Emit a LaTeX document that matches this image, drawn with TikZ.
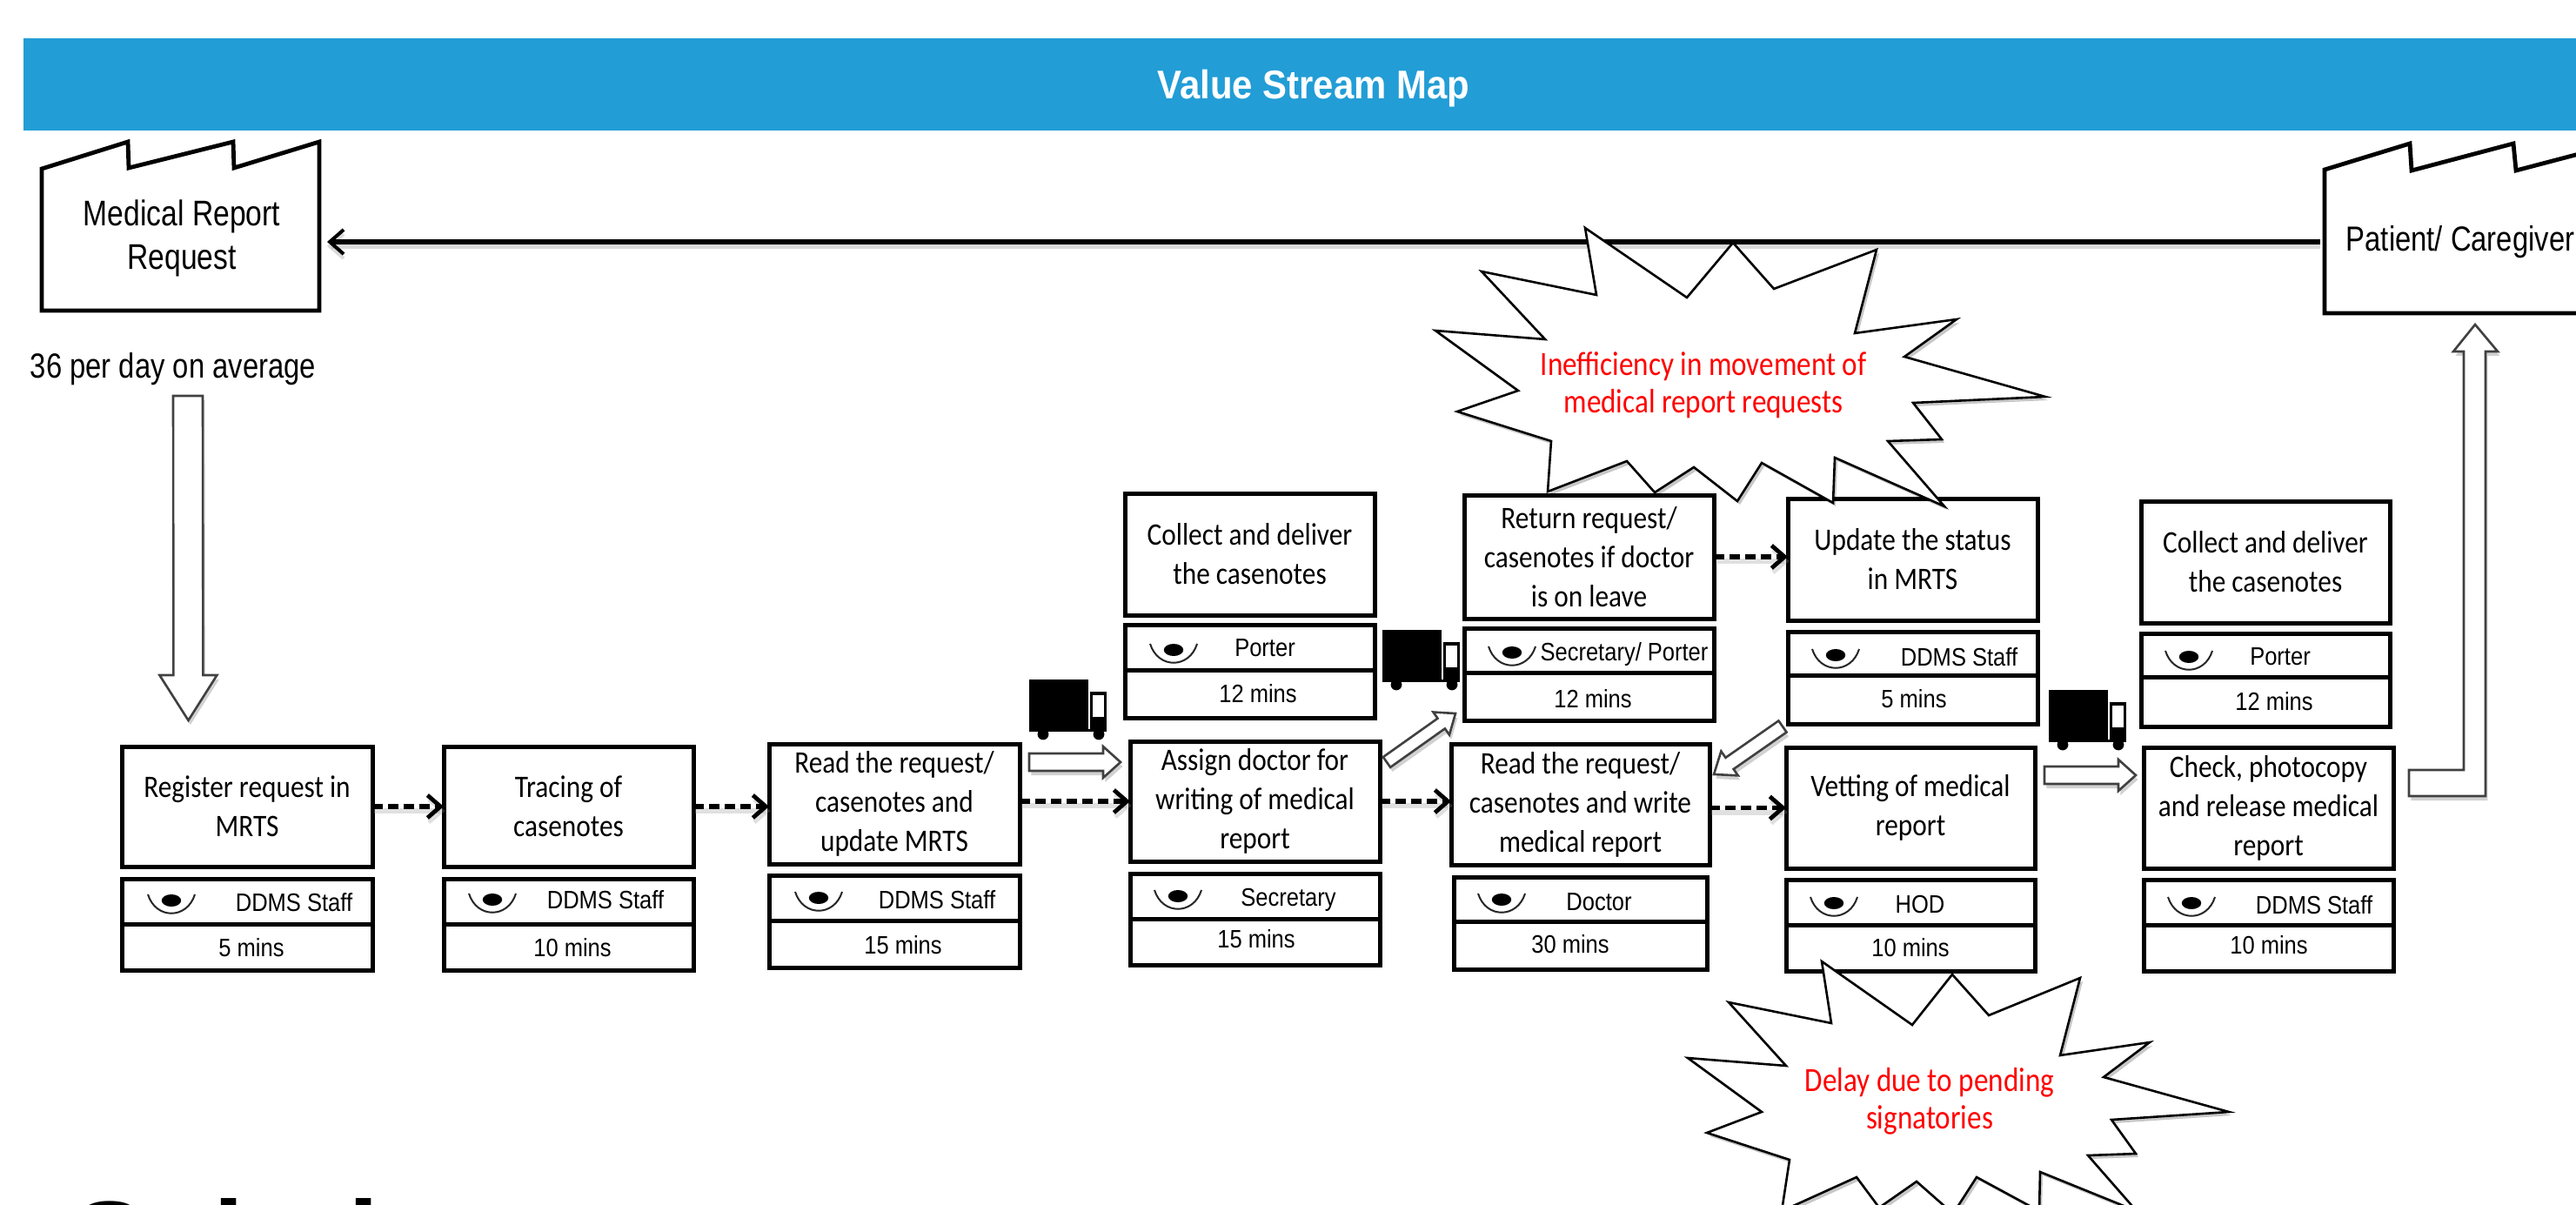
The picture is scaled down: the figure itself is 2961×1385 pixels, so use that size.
\documentclass[tikz,border=0pt]{standalone}
\usepackage{fontspec}
\usetikzlibrary{arrows.meta,calc}
\setmainfont{Liberation Sans}
\newfontfamily\boxf[FakeStretch=.87]{Carlito}
\newfontfamily\redf[FakeStretch=.85]{Carlito}
\newfontfamily\labelf[FakeStretch=.82]{Liberation Sans}
\newfontfamily\rolef[FakeStretch=.88]{Liberation Sans}
\newfontfamily\titlef[FakeStretch=.91]{Liberation Sans}
\definecolor{bannerblue}{RGB}{34,157,214}
\tikzset{
  cell/.style={draw=black,line width=2.5pt,fill=white,inner sep=0pt,outer sep=0pt,align=center,
    font=\boxf\fontsize{18}{22.5}\selectfont},
  rolelbl/.style={inner sep=0pt,font=\rolef\fontsize{14.5}{17}\selectfont},
  factorylbl/.style={inner sep=0pt,align=center,font=\labelf\fontsize{20.5}{25}\selectfont},
  redlbl/.style={inner sep=0pt,align=center,text=red,font=\redf\fontsize{19.5}{21.5}\selectfont},
  factoryshape/.style={draw=black,line width=2.4pt,fill=white,line join=miter},
  anchorbox/.style={inner sep=0pt,outer sep=0pt},
  mainflow/.style={draw=black,line width=2.6pt,-{Straight Barb[length=8pt,width=14pt,line width=2pt]},
    preaction={draw=black!40,opacity=.35,line width=3pt,transform canvas={yshift=-2.5pt}}},
  pushflow/.style={draw=black,line width=2.8pt,dash pattern=on 6pt off 3pt,
    -{Straight Barb[length=7.5pt,width=13pt,line width=2.4pt]},
    preaction={draw=black!40,opacity=.3,line width=3pt,transform canvas={yshift=-2.5pt,xshift=.8pt}}},
  hollowshape/.style={draw=black!75,line width=1.3pt,fill=white,line join=miter,
    preaction={fill=black,opacity=.18,transform canvas={yshift=-2.5pt,xshift=1.2pt}}},
  burst/.style={draw=black,line width=1.3pt,fill=white,line join=miter,
    preaction={fill=black,opacity=.22,transform canvas={yshift=-2pt,xshift=1.5pt}}},
}
\newcommand{\stepbox}[6]{%
  \pgfmathsetmacro\vsmw{(#3-#2)*0.5}\pgfmathsetmacro\vsmh{(#5-#4)*0.5}%
  \node[cell,minimum width=\vsmw pt,minimum height=\vsmh pt] (#1) at ({(#2+#3)/2},{(#4+#5)/2}) {#6};}
\newcommand{\eyemark}[2]{%
  \begin{scope}[shift={(#1,#2)}]
    \fill[black] (0,-2) ellipse [x radius=5.6pt,y radius=3.5pt];
    \draw[black!85,line width=1pt] (-27,-9) .. controls (-18,20) and (18,20) .. (27,-9);
  \end{scope}}
\newcommand{\truckmark}[2]{%
  \begin{scope}[shift={(#1,#2)}]
    \fill[black] (0,0) rectangle (68,57);
    \fill[black] (70,14) rectangle (89,60);
    \fill[white] (73,18) rectangle (86,43);
    \fill[black] (0,57) rectangle (89,60);
    \fill[black] (16,63) circle [radius=3.2pt];
    \fill[black] (80,63) circle [radius=3.2pt];
  \end{scope}}
% #1 start, #2 tip, #3 shaft half, #4 head half, #5 head length (in points)
\newcommand{\hollowarrow}[5]{%
  \coordinate (hc) at ($(#2)!#5pt!(#1)$);
  \draw[hollowshape] ($(#1)!#3pt!90:(#2)$) -- ($(hc)!#3pt!-90:(#1)$) -- ($(hc)!#4pt!-90:(#1)$)
    -- (#2) -- ($(hc)!#4pt!90:(#1)$) -- ($(hc)!#3pt!90:(#1)$) -- ($(#1)!#3pt!-90:(#2)$) -- cycle;}
\begin{document}
\begin{tikzpicture}[x=0.5pt,y=-0.5pt]
\path[use as bounding box] (0,0) rectangle (2961,1385);
\clip (0,0) rectangle (2961,1385);
\fill[white] (0,0) rectangle (2961,1385);

% banner
\node[fill=bannerblue,inner sep=0pt,outer sep=0pt,minimum width=1481pt,minimum height=53pt] (banner) at (1508,97) {};
\node[text=white,inner sep=0pt,font=\titlef\bfseries\fontsize{23}{27}\selectfont] (title) at (1510,102) {Value Stream Map};

% factories
\draw[factoryshape] (48,357) -- (48,194) -- (147,163) -- (148,193) -- (268,163) -- (269,193) -- (367,163) -- (367,357) -- cycle;
\node[anchorbox,minimum width=159.5pt,minimum height=79pt] (facA) at (207.5,278) {};
\node[factorylbl] (facAlbl) at (209,274) {Medical Report\\Request};
\draw[factoryshape] (3010,360) -- (2672,360) -- (2672,195) -- (2770,165) -- (2772,196) -- (2889,165) -- (2892,196) -- (3010,165);
\node[anchorbox,minimum width=169pt,minimum height=82pt] (facB) at (2841,278) {};
\node[factorylbl,font=\labelf\fontsize{20}{25}\selectfont] (facBlbl) at (2828,278) {Patient/ Caregiver};
\draw[mainflow,shorten >=4.5pt,shorten <=2.5pt] (facB.west) -- (facA.east);
\node[factorylbl,font=\labelf\fontsize{20}{25}\selectfont] (rate) at (199,424) {36 per day on average};

% process boxes
\stepbox{regA}{140}{428}{858}{996}{Register request in\\MRTS}
\stepbox{regB}{140}{428}{1010}{1062}{}
\stepbox{regC}{140}{428}{1062}{1115}{}
\stepbox{traA}{510}{797}{858}{996}{Tracing of\\casenotes}
\stepbox{traB}{510}{797}{1010}{1062}{}
\stepbox{traC}{510}{797}{1062}{1115}{}
\stepbox{rdA}{884}{1172}{855}{993}{Read the request/\\casenotes and\\update MRTS}
\stepbox{rdB}{884}{1172}{1006}{1058}{}
\stepbox{rdC}{884}{1172}{1058}{1112}{}
\stepbox{colA}{1293}{1580}{567}{707}{Collect and deliver\\the casenotes}
\stepbox{colB}{1293}{1580}{718}{770}{}
\stepbox{colC}{1293}{1580}{770}{825}{}
\stepbox{asgA}{1299}{1586}{852}{990}{Assign doctor for\\writing of medical\\report}
\stepbox{asgB}{1299}{1586}{1004}{1056}{}
\stepbox{asgC}{1299}{1586}{1056}{1109}{}
\stepbox{retA}{1683}{1970}{569}{711}{Return request/\\casenotes if doctor\\is on leave}
\stepbox{retB}{1683}{1970}{722}{773}{}
\stepbox{retC}{1683}{1970}{773}{828}{}
\stepbox{wrtA}{1668}{1965}{855}{994}{Read the request/\\casenotes and write\\medical report}
\stepbox{wrtB}{1671}{1962}{1008}{1059}{}
\stepbox{wrtC}{1671}{1962}{1059}{1114}{}
\stepbox{updA}{2055}{2342}{573}{713}{Update the status\\in MRTS}
\stepbox{updB}{2055}{2342}{726}{776}{}
\stepbox{updC}{2055}{2342}{776}{832}{}
\stepbox{vetA}{2053}{2339}{859}{998}{Vetting of medical\\report}
\stepbox{vetB}{2053}{2339}{1011}{1063}{}
\stepbox{vetC}{2053}{2339}{1063}{1116}{}
\stepbox{cdlA}{2461}{2747}{576}{716}{Collect and deliver\\the casenotes}
\stepbox{cdlB}{2461}{2747}{728}{778}{}
\stepbox{cdlC}{2461}{2747}{778}{835}{}
\stepbox{chkA}{2464}{2751}{859}{998}{Check, photocopy\\and release medical\\report}
\stepbox{chkB}{2464}{2751}{1011}{1063}{}
\stepbox{chkC}{2464}{2751}{1063}{1116}{}

% operator eyes
\eyemark{197}{1037}\eyemark{566}{1036}\eyemark{941}{1034}\eyemark{1349}{749}\eyemark{1354}{1032}
\eyemark{1738}{752}\eyemark{1726}{1036}\eyemark{2110}{755}\eyemark{2108}{1040}\eyemark{2516}{757}\eyemark{2519}{1040}

% operators and times
\node[rolelbl] (regR) at (338,1037) {DDMS Staff};
\node[rolelbl] (regT) at (289,1089) {5 mins};
\node[rolelbl] (traR) at (696,1034) {DDMS Staff};
\node[rolelbl] (traT) at (658,1089) {10 mins};
\node[rolelbl] (rdR) at (1077,1034) {DDMS Staff};
\node[rolelbl] (rdT) at (1038,1086) {15 mins};
\node[rolelbl] (colR) at (1454,745) {Porter};
\node[rolelbl] (colT) at (1446,797) {12 mins};
\node[rolelbl] (asgR) at (1481,1034) {Secretary};
\node[rolelbl] (asgT) at (1444,1079) {15 mins};
\node[rolelbl] (retR) at (1867,752) {Secretary/ Porter};
\node[rolelbl] (retT) at (1831,803) {12 mins};
\node[rolelbl] (wrtR) at (1838,1037) {Doctor};
\node[rolelbl] (wrtT) at (1805,1085) {30 mins};
\node[rolelbl] (updR) at (2252,755) {DDMS Staff};
\node[rolelbl] (updT) at (2200,803) {5 mins};
\node[rolelbl] (vetR) at (2207,1040) {HOD};
\node[rolelbl] (vetT) at (2196,1089) {10 mins};
\node[rolelbl] (cdlR) at (2621,755) {Porter};
\node[rolelbl] (cdlT) at (2614,806) {12 mins};
\node[rolelbl] (chkR) at (2660,1040) {DDMS Staff};
\node[rolelbl] (chkT) at (2608,1086) {10 mins};

% trucks
\truckmark{1183}{781}\truckmark{1589}{724}\truckmark{2355}{793}

% dashed push arrows
\draw[pushflow] (regA.east) -- (traA.west);
\draw[pushflow] (traA.east) -- (traA.east -| rdA.west);
\draw[pushflow] (rdA.east |- asgA.west) -- (asgA.west);
\draw[pushflow] (asgA.east) -- (asgA.east -| wrtA.west);
\draw[pushflow] (retA.east) -- (retA.east -| updA.west);
\draw[pushflow] (wrtA.east |- vetA.west) -- (vetA.west);

% hollow arrows
\coordinate (inA) at (216,455); \coordinate (inB) at (216.5,828);
\hollowarrow{inA}{inB}{8.5}{16.5}{26}
\coordinate (moveAa) at (1183,876); \coordinate (moveAb) at (1288,876);
\hollowarrow{moveAa}{moveAb}{5}{9}{10}
\coordinate (moveBa) at (1594,876); \coordinate (moveBb) at (1673,820);
\hollowarrow{moveBa}{moveBb}{3.6}{8}{10}
\coordinate (moveCa) at (2049,835); \coordinate (moveCb) at (1970,890);
\hollowarrow{moveCa}{moveCb}{4}{8.5}{11}
\coordinate (moveDa) at (2350,891); \coordinate (moveDb) at (2455,891);
\hollowarrow{moveDa}{moveDb}{5}{9}{10}
\draw[hollowshape] (2769,885) -- (2832,885) -- (2832,404) -- (2820,404) -- (2845,373) -- (2871,404) -- (2857,404) -- (2857,915) -- (2769,915) -- cycle;

% bursts
\draw[burst] (1822,262) -- (1939,342) -- (1992,279) -- (2039,332) -- (2157,287) -- (2132,383) -- (2249,367) -- (2189,410) -- (2351,456) -- (2199,463) -- (2232,505) -- (2170,507) -- (2235,582) -- (2109,526) -- (2107,578) -- (2025,532) -- (1997,576) -- (1947,537) -- (1902,566) -- (1870,530) -- (1779,565) -- (1783,507) -- (1675,473) -- (1745,449) -- (1650,380) -- (1776,390) -- (1703,312) -- (1835,339) -- cycle;
\node[redlbl] (waste) at (1958,443) {Inefficiency in movement of\\medical report requests};
\draw[burst] (2094,1105) -- (2198,1178) -- (2244,1120) -- (2286,1167) -- (2391,1124) -- (2368,1213) -- (2471,1198) -- (2418,1238) -- (2562,1278) -- (2427,1287) -- (2455,1326) -- (2400,1328) -- (2456,1392) -- (2345,1347) -- (2344,1392) -- (2272,1353) -- (2245,1395) -- (2203,1358) -- (2160,1388) -- (2134,1353) -- (2048,1392) -- (2057,1333) -- (1962,1302) -- (2025,1278) -- (1940,1216) -- (2053,1225) -- (1987,1152) -- (2105,1176) -- cycle;
\node[redlbl] (delay) at (2218,1266) {Delay due to pending\\signatories};

% cropped heading at the bottom edge
\node[anchor=base west,inner sep=0pt,text=black,font=\bfseries\fontsize{63.5}{70}\selectfont] (cut) at (83,1469) {Solution};
\end{tikzpicture}
\end{document}
